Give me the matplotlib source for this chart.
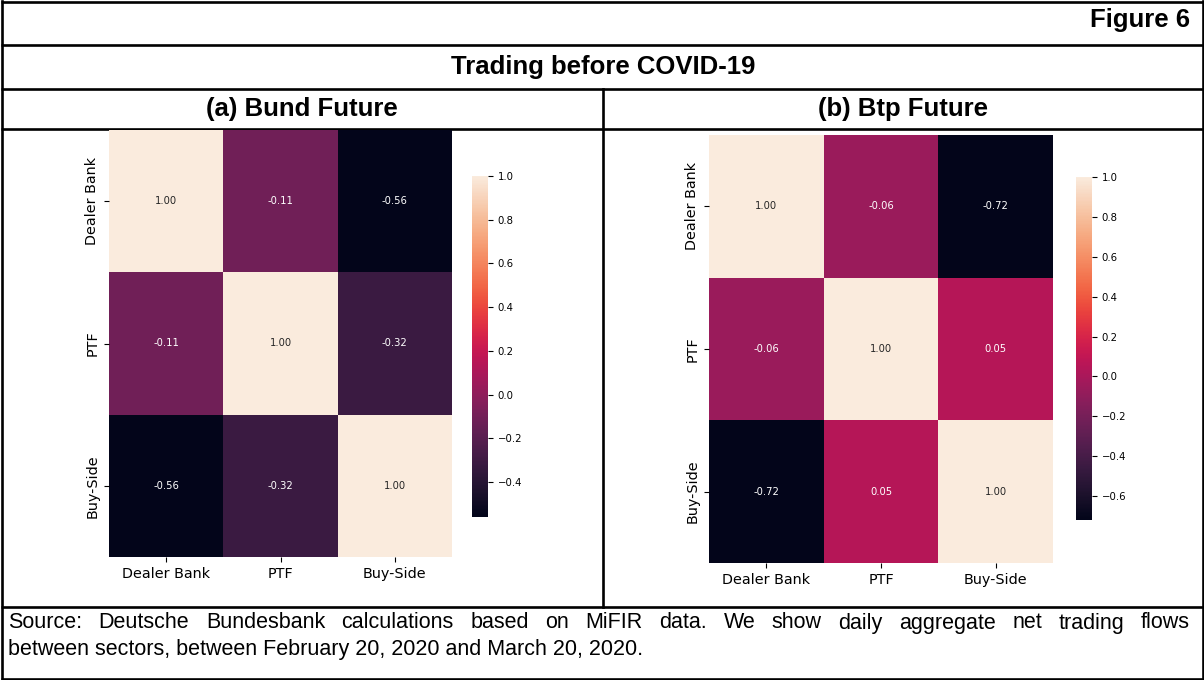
import numpy as np
import matplotlib
matplotlib.use("Agg")
import matplotlib.pyplot as plt
import seaborn as sns

# data
sectors = ["Dealer Bank", "PTF", "Buy-Side"]
bund_corr = [[1.00, -0.11, -0.56],
             [-0.11, 1.00, -0.32],
             [-0.56, -0.32, 1.00]]
btp_corr = [[1.00, -0.06, -0.72],
            [-0.06, 1.00, 0.05],
            [-0.72, 0.05, 1.00]]
source_lines = [
    "Source: Deutsche Bundesbank calculations based on MiFIR data. We show daily aggregate net trading flows",
    "between sectors, between February 20, 2020 and March 20, 2020.",
]

W, H = 1204, 680
fig = plt.figure(figsize=(W / 100, H / 100), dpi=100)


def box(x0, y0, x1, y1):
    # pixel box (top-left origin) -> figure fraction rect
    return [x0 / W, 1 - y1 / H, (x1 - x0) / W, (y1 - y0) / H]


# frame / table lines
frame = fig.add_axes([0, 0, 1, 1], zorder=-1)
frame.set_xlim(0, W)
frame.set_ylim(H, 0)
frame.axis("off")
lw = 1.9
for y in [1.5, 45, 88.5, 129, 607, 678.5]:
    frame.plot([1, W - 1], [y, y], color="black", lw=lw, solid_capstyle="butt")
frame.plot([1.5, 1.5], [1, 679], color="black", lw=lw)
frame.plot([W - 1.5, W - 1.5], [1, 679], color="black", lw=lw)
frame.plot([603, 603], [88.5, 607], color="black", lw=lw)

hfont = dict(family="Liberation Sans", fontweight="bold", fontsize=18.5)
frame.text(1190, 20, "Figure 6", ha="right", va="center", **hfont)
frame.text(603, 67, "Trading before COVID-19", ha="center", va="center", **hfont)
frame.text(302, 109, "(a) Bund Future", ha="center", va="center", **hfont)
frame.text(903, 109, "(b) Btp Future", ha="center", va="center", **hfont)

# source note, first line justified between x=8 and x=1190
src = dict(family="Liberation Sans", fontsize=15.5)
renderer = fig.canvas.get_renderer()
words = source_lines[0].split(" ")
arts = [frame.text(0, 623, w, ha="left", va="center", **src) for w in words]
widths = [a.get_window_extent(renderer).width for a in arts]
gap = (1190 - 8 - sum(widths)) / (len(words) - 1)
x = 8
for a, w in zip(arts, widths):
    a.set_x(x)
    x += w + gap
frame.text(8, 650, source_lines[1], ha="left", va="center", **src)

panels = [
    (bund_corr, box(109, 130, 452, 557), box(472, 176, 488, 517)),
    (btp_corr, box(709, 135, 1053, 563), box(1076, 177, 1092, 520)),
]

for data, rect, cbrect in panels:
    ax = fig.add_axes(rect)
    cax = fig.add_axes(cbrect)
    sns.heatmap(np.array(data), annot=True, fmt=".2f", cmap="rocket",
                xticklabels=sectors, yticklabels=sectors,
                ax=ax, cbar_ax=cax, annot_kws={"fontsize": 7.2})
    ax.set_yticklabels(sectors, rotation=90, va="center", fontsize=10.4)
    ax.set_xticklabels(sectors, rotation=0, fontsize=10.4)
    cax.tick_params(labelsize=7.3)
    cax.set_frame_on(False)

fig.savefig("out.png", dpi=100)
